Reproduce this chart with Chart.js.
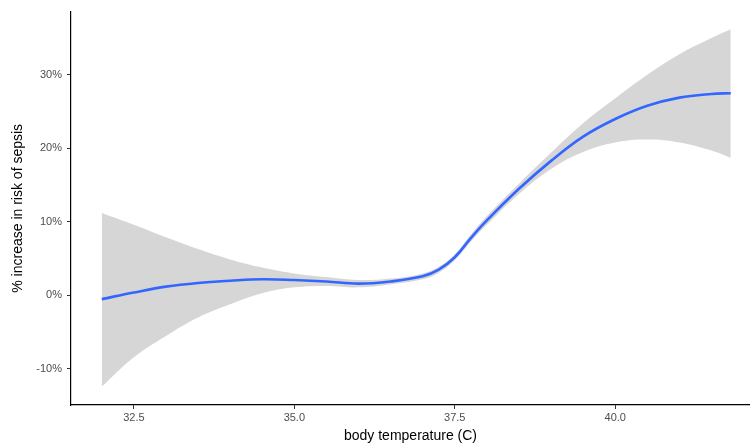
<!DOCTYPE html>
<html lang="en">
<head>
  <meta charset="UTF-8" />
  <title>Sepsis risk by body temperature</title>
  <script src="https://cdn.jsdelivr.net/npm/chart.js"></script>
  <style>
    html, body { margin: 0; padding: 0; background: #fff; }
    canvas { display: block; }
  </style>
</head>
<body>
  <canvas id="grafico" width="750" height="445"></canvas>
  <script>
    // temperature grid and fitted curve with its confidence band (%)
    const temps = [32.0, 32.5, 33.0, 33.5, 34.0, 34.5, 35.0, 35.5, 36.0, 36.5, 37.0, 37.25,
      37.5, 37.75, 38.0, 38.5, 39.0, 39.5, 40.0, 40.5, 41.0, 41.5, 41.8];
    const fit = [-0.5, 0.4, 1.2, 1.7, 2.0, 2.2, 2.1, 1.9, 1.6, 1.9, 2.6, 3.5,
      5.2, 7.8, 10.2, 14.5, 18.3, 21.6, 24.0, 25.8, 26.9, 27.4, 27.5];
    const upper = [11.2, 9.6, 7.9, 6.3, 4.9, 3.8, 3.0, 2.5, 2.1, 2.3, 3.0, 3.9,
      5.6, 8.3, 10.8, 15.2, 19.4, 23.4, 26.8, 30.0, 32.8, 35.0, 36.2];
    const lower = [-12.4, -8.4, -5.5, -3.0, -1.2, 0.3, 1.1, 1.3, 1.1, 1.5, 2.2, 3.1,
      4.8, 7.3, 9.6, 13.8, 17.2, 19.5, 20.8, 21.2, 20.8, 19.7, 18.7];

    const xTicks = [32.5, 35.0, 37.5, 40.0];
    const yTicks = [-10, 0, 10, 20, 30];

    const pts = arr => temps.map((t, i) => ({ x: t, y: arr[i] }));

    const tickFont = { family: "'Liberation Sans', Arial, sans-serif", size: 11 };
    const titleFont = { family: "'Liberation Sans', Arial, sans-serif", size: 14 };

    new Chart(document.getElementById("grafico"), {
      type: "line",
      data: {
        datasets: [
          {
            data: pts(fit),
            borderColor: "#3366FF",
            borderWidth: 2.6,
            pointRadius: 0,
            fill: false,
            tension: 0.4
          },
          {
            data: pts(upper),
            borderWidth: 0,
            borderColor: "rgba(0,0,0,0)",
            backgroundColor: "#D6D6D6",
            pointRadius: 0,
            fill: "+1",
            tension: 0.4
          },
          {
            data: pts(lower),
            borderWidth: 0,
            borderColor: "rgba(0,0,0,0)",
            pointRadius: 0,
            fill: false,
            tension: 0.4
          }
        ]
      },
      options: {
        responsive: false,
        animation: false,
        devicePixelRatio: 1,
        layout: { padding: { top: 9, right: 0, left: 0, bottom: 0 } },
        plugins: {
          legend: { display: false },
          tooltip: { enabled: false }
        },
        scales: {
          x: {
            type: "linear",
            min: 31.52,
            max: 42.1,
            afterBuildTicks: s => { s.ticks = xTicks.map(v => ({ value: v })); },
            afterFit: s => { s.height = 40; },
            ticks: {
              color: "#4D4D4D",
              font: tickFont,
              padding: 2,
              callback: v => v.toFixed(1)
            },
            grid: { drawOnChartArea: false, drawTicks: true, tickLength: 4, color: "#333" },
            border: { display: true, color: "#000", width: 1.2 },
            title: {
              display: true,
              text: "body temperature (C)",
              color: "#000",
              font: titleFont,
              padding: { top: 1, bottom: 0 }
            }
          },
          y: {
            min: -14.9,
            max: 38.6,
            afterBuildTicks: s => { s.ticks = yTicks.map(v => ({ value: v })); },
            afterFit: s => { s.width = 71; },
            ticks: {
              color: "#4D4D4D",
              font: tickFont,
              padding: 5,
              callback: v => v + "%"
            },
            grid: { drawOnChartArea: false, drawTicks: true, tickLength: 4, color: "#333" },
            border: { display: true, color: "#000", width: 1.2 },
            title: {
              display: true,
              text: "% increase in risk of sepsis",
              color: "#000",
              font: titleFont,
              padding: { top: 10, bottom: 0 }
            }
          }
        }
      }
    });
  </script>
</body>
</html>
